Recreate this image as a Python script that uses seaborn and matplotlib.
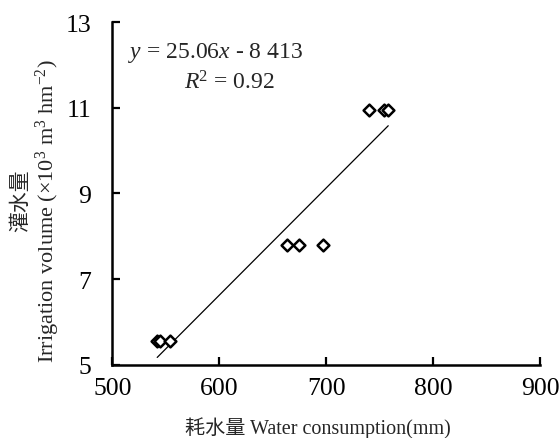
import matplotlib
matplotlib.use("Agg")
import matplotlib.pyplot as plt
import seaborn as sns
import pandas as pd

# water consumption (mm) and irrigation volume (x10^3 m3 hm-2)
water_use = [542, 545, 554, 663, 675, 697, 740, 754, 758]
irrigation = [5.55, 5.55, 5.55, 7.8, 7.8, 7.8, 10.95, 10.95, 10.95]

# fitted line y = 25.06x - 8413 (m3 hm-2)
slope = 25.06
intercept = -8413

x_ticks = [500, 600, 700, 800, 900]
y_ticks = [5, 7, 9, 11, 13]

sns.set_theme(style="ticks")
plt.rcParams["font.family"] = ["Liberation Serif", "Noto Sans CJK SC"]
plt.rcParams["mathtext.fontset"] = "custom"
plt.rcParams["mathtext.rm"] = "Liberation Serif"
plt.rcParams["mathtext.it"] = "Liberation Serif:italic"

df = pd.DataFrame({"water": water_use, "irr": irrigation})
x_fit = [min(water_use), max(water_use)]
fit_df = pd.DataFrame({"water": x_fit,
                       "irr": [(slope * v + intercept) / 1000 for v in x_fit]})

fig = plt.figure(figsize=(5.6, 4.39), dpi=100)
ax = fig.add_axes([0.2005, 0.167, 0.764, 0.78])

sns.lineplot(data=fit_df, x="water", y="irr", color="black", linewidth=0.9, ax=ax)
sns.scatterplot(data=df, x="water", y="irr", marker="D", s=36,
                facecolor="white", edgecolor="black", linewidth=1.8, ax=ax, zorder=3)

ax.set_xlim(500, 900)
ax.set_ylim(5, 13)
ax.set_xticks(x_ticks)
ax.set_yticks(y_ticks)
ax.tick_params(direction="in", length=6, width=1.6, labelsize=18.5, colors="black")
ax.tick_params(axis="x", pad=9)
ax.tick_params(axis="y", pad=15)
for side in ["top", "right"]:
    ax.spines[side].set_visible(False)
for side in ["left", "bottom"]:
    ax.spines[side].set_linewidth(1.8)
    ax.spines[side].set_color("black")

ax.set_xlabel("耗水量 Water consumption(mm)", fontsize=14.5)
ax.xaxis.set_label_coords(0.481, -0.15)
ax.set_ylabel("Irrigation volume (×10$^{3}$ m$^{3}$ hm$^{-2}$)", fontsize=16)
ax.yaxis.set_label_coords(-0.117, 0.452)
# Chinese part of the y label as a separate line
ax.text(-0.211, 0.481, "灌水量", transform=ax.transAxes, rotation=90,
        fontsize=15, ha="center", va="center")

ax.text(0.242, 0.913, "$y$ = 25.06$x$ - 8 413", transform=ax.transAxes,
        fontsize=17, ha="center", va="center")
ax.text(0.273, 0.826, "$R$$^{2}$ = 0.92", transform=ax.transAxes,
        fontsize=17, ha="center", va="center")

plt.savefig("out.png", dpi=100)
